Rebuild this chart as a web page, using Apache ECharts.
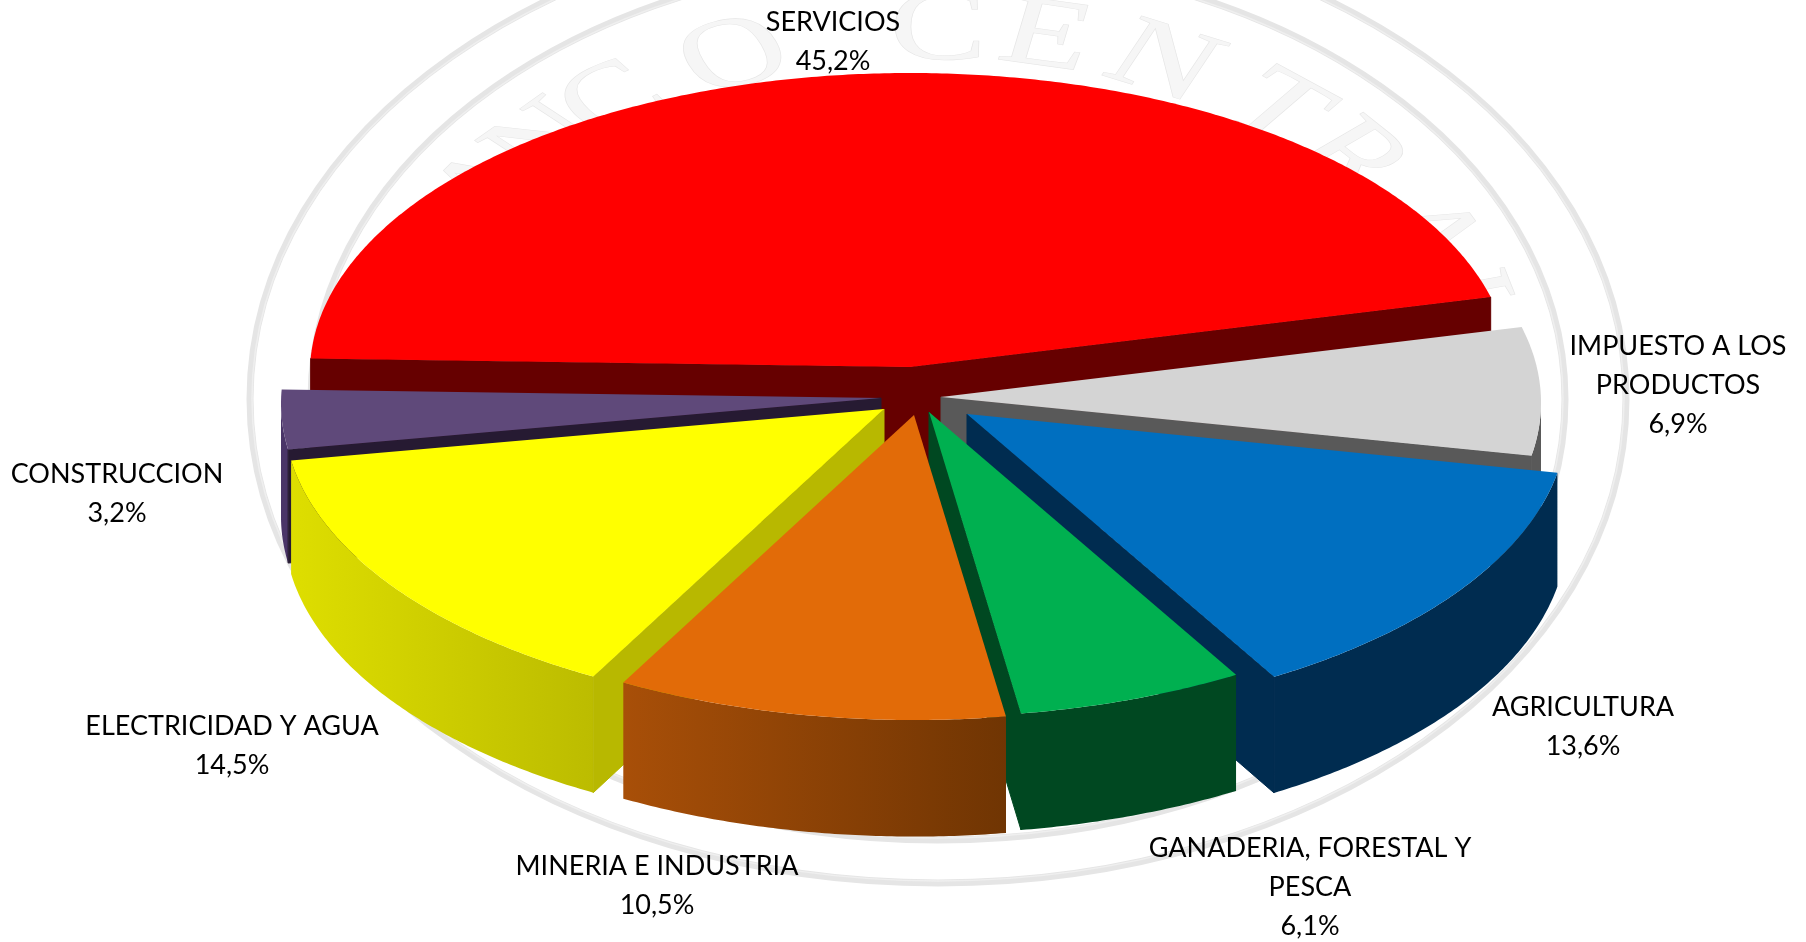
<!DOCTYPE html>
<html lang="es">
<head>
    <meta charset="UTF-8">
    <title>Estructura del PIB</title>
    <script src="https://cdn.jsdelivr.net/npm/echarts@6/dist/echarts.min.js"></script>
    <style>
        html, body { margin: 0; height: 100%; background: #fff; overflow: hidden; }
        #main { width: 1806px; height: 942px; }
    </style>
</head>
<body>
<div id="main"></div>
<script>
    // data, clockwise from the left edge of SERVICIOS
    const categories = ['SERVICIOS', 'IMPUESTO A LOS\nPRODUCTOS', 'AGRICULTURA', 'GANADERIA, FORESTAL Y\nPESCA',
        'MINERIA E INDUSTRIA', 'ELECTRICIDAD Y AGUA', 'CONSTRUCCION'];
    const values = [45.2, 6.9, 13.6, 6.1, 10.5, 14.5, 3.2];

    // colours per slice
    const topColors = ['#ff0000', '#d4d4d4', '#006fc0', '#00b050', '#e26b08', '#ffff00', '#5f497a'];
    const edgeColors = ['#660000', '#595959', '#002c50', '#004821', '#b8b800', '#b8b800', '#261a32'];
    const wallFrom = ['#660000', '#595959', '#002c50', '#004821', '#a84f08', '#dede00', '#4a3568'];
    const wallTo = ['#660000', '#595959', '#002c50', '#004821', '#703503', '#bcbc00', '#4a3568'];

    // exploded apex of every slice, and where its label sits
    const apexX = [910, 941, 967, 929, 914, 884, 881];
    const apexY = [367, 397, 414, 412, 415, 409, 398];
    const labelX = [833, 1678, 1583, 1310, 657, 232, 117];
    const labelY = [22, 346, 707, 848, 866, 726, 474];

    // back to front
    const drawOrder = [0, 6, 1, 2, 5, 3, 4];

    const startAngle = 177.3;
    const rx = 600, ry = 299.5, tilt = 5.5, depth = 113, depthFront = 3.5;
    const lineHeight = 39;

    // watermark seal
    const sealX = 938, sealY = 399;
    const sealRings = [[688, 484], [627, 441]];
    const sealLetters = ['B', 'A', 'N', 'C', 'O', 'C', 'E', 'N', 'T', 'R', 'A', 'L'];
    const sealAngles = [-66, -55, -46, -36.5, -22, 0, 11.5, 24.5, 38.5, 49.5, 63.5, 75];

    function fmt(v) {
        return v.toFixed(1).replace('.', ',') + '%';
    }

    function rad(a) {
        return a * Math.PI / 180;
    }

    function onRim(i, a) {
        return [apexX[i] + rx * Math.cos(rad(a)), apexY[i] + tilt - ry * Math.sin(rad(a))];
    }

    function arcPoints(i, from, to) {
        let pts = [];
        let n = Math.max(2, Math.ceil(Math.abs(from - to) * 2));
        for (let k = 0; k <= n; k++) {
            pts.push(onRim(i, from + (to - from) * k / n));
        }
        return pts;
    }

    // bottom of the wall under a top point, a bit deeper toward the viewer
    function down(i, p) {
        let front = Math.max(0, (p[1] - apexY[i]) / ry);
        return [p[0], p[1] + depth + depthFront * front];
    }

    function poly(points, fill, outline) {
        let style = {fill: fill, stroke: null};
        // same colour outline closes the hairline between neighbouring walls
        if (outline) {
            style.stroke = fill;
            style.lineWidth = outline;
            style.lineJoin = 'round';
        }
        return {type: 'polygon', shape: {points: points}, style: style};
    }

    // straight cut wall between apex and rim
    function edgeWall(i, a) {
        let apex = [apexX[i], apexY[i]];
        let rim = onRim(i, a);
        return poly([apex, rim, down(i, rim), down(i, apex)], edgeColors[i], 1);
    }

    function renderSlice(params, api) {
        let i = api.value(0);
        let from = api.value(1);
        let to = api.value(2);
        let children = [];

        // outer wall, front half of the rim only
        let wallA = null, wallB = null;
        for (let a = from; a >= to; a -= 0.25) {
            if (Math.sin(rad(a)) <= 0) {
                if (wallA === null) wallA = a;
                wallB = a;
            }
        }
        if (Math.sin(rad(to)) <= 0) wallB = to;
        if (wallA !== null && wallA !== wallB) {
            let rim = arcPoints(i, wallA, wallB);
            let fill = new echarts.graphic.LinearGradient(0, 0, 1, 0, [
                {offset: 0, color: wallFrom[i]},
                {offset: 1, color: wallTo[i]}
            ]);
            children.push(poly(rim.concat(rim.map(p => down(i, p)).reverse()), fill));
        }

        // cut faces that look toward the viewer
        if (Math.sin(rad(from + 90)) < 0) children.push(edgeWall(i, from));
        if (Math.sin(rad(to - 90)) < 0) children.push(edgeWall(i, to));

        // top face
        children.push(poly([[apexX[i], apexY[i]]].concat(arcPoints(i, from, to)), topColors[i]));

        // label
        children.push({
            type: 'text',
            z2: 50,
            style: {
                x: labelX[i],
                y: labelY[i] - lineHeight / 2,
                text: categories[i] + '\n' + fmt(values[i]),
                fill: '#000',
                font: '27px Lato',
                lineHeight: lineHeight,
                align: 'center',
                verticalAlign: 'top'
            }
        });
        return {type: 'group', children: children};
    }

    // angles of each slice from the values
    let total = values.reduce((s, v) => s + v, 0);
    let cursor = startAngle;
    let sliceAngles = values.map(v => {
        let a = [cursor, cursor - v / total * 360];
        cursor = a[1];
        return a;
    });
    let sliceData = drawOrder.map(i => [i, sliceAngles[i][0], sliceAngles[i][1]]);

    let sealGraphic = sealRings.map(r => ({
        type: 'ellipse',
        shape: {cx: sealX, cy: sealY, rx: r[0], ry: r[1]},
        style: {fill: null, stroke: '#e5e5e5', lineWidth: 7}
    })).concat(sealRings.map(r => ({
        type: 'ellipse',
        shape: {cx: sealX, cy: sealY, rx: r[0] - 2, ry: r[1] - 2},
        style: {fill: null, stroke: '#efefef', lineWidth: 1.5}
    })));
    sealGraphic.push({
        type: 'group',
        x: sealX,
        y: sealY,
        scaleY: 0.68,
        silent: true,
        children: sealLetters.map((ch, k) => ({
            type: 'text',
            x: 540 * Math.sin(rad(sealAngles[k])),
            y: -540 * Math.cos(rad(sealAngles[k])),
            rotation: -rad(sealAngles[k]),
            style: {
                text: ch,
                font: '145px "Liberation Serif"',
                fill: '#f6f6f6',
                stroke: '#e6e6e6',
                lineWidth: 1.5,
                align: 'center',
                verticalAlign: 'middle'
            }
        }))
    });

    let chart = echarts.init(document.getElementById('main'));
    chart.setOption({
        animation: false,
        backgroundColor: '#fff',
        graphic: {elements: sealGraphic},
        series: [{
            type: 'custom',
            coordinateSystem: 'none',
            z: 5,
            silent: true,
            renderItem: renderSlice,
            data: sliceData
        }]
    });
</script>
</body>
</html>
